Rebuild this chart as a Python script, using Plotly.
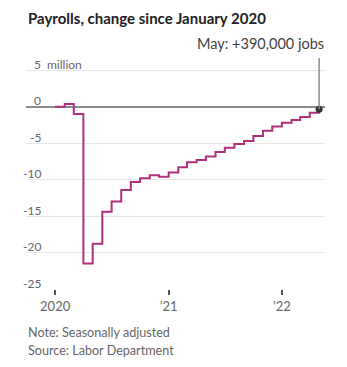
import plotly.graph_objects as go

# ---- data (millions of jobs, change since Jan 2020) ----
months = [
    "2020-01-01", "2020-02-01", "2020-03-01", "2020-04-01", "2020-05-01", "2020-06-01",
    "2020-07-01", "2020-08-01", "2020-09-01", "2020-10-01", "2020-11-01", "2020-12-01",
    "2021-01-01", "2021-02-01", "2021-03-01", "2021-04-01", "2021-05-01", "2021-06-01",
    "2021-07-01", "2021-08-01", "2021-09-01", "2021-10-01", "2021-11-01", "2021-12-01",
    "2022-01-01", "2022-02-01", "2022-03-01", "2022-04-01", "2022-05-01",
]
change = [
    0.0, 0.4, -1.0, -21.5, -18.8, -14.4,
    -13.0, -11.4, -10.3, -9.8, -9.4, -9.6,
    -9.0, -8.3, -7.6, -7.3, -6.8, -6.2,
    -5.6, -5.1, -4.7, -4.0, -3.3, -2.7,
    -2.2, -1.8, -1.4, -0.8, -0.35,
]
ytick_vals = [5, 0, -5, -10, -15, -20, -25]
ytick_text = ["5", "0", "-5", "-10", "-15", "-20", "-25"]
xtick_vals = ["2020-01-01", "2021-01-01", "2022-01-01"]
xtick_text = ["2020", "\u201921", "\u201922"]
title = "Payrolls, change since January 2020"
callout = "May: +390,000 jobs"
notes = ["Note: Seasonally adjusted", "Source: Labor Department"]

LINE = "#b0307e"
GRID = "#e6e6e6"
ZERO = "#8c8c8c"
TXT = "#666666"
FONT = "Lato"

W, H = 347, 367
ML, MR, MT, MB = 26, 22, 58, 78
Y_RANGE = [-25, 6.7]
X_RANGE = ["2019-09-29", "2022-05-20"]
plot_h = H - MT - MB

fig = go.Figure()
fig.add_trace(go.Scatter(
    x=months, y=change, mode="lines",
    line=dict(color=LINE, width=2, shape="hv"),
    hoverinfo="skip", showlegend=False,
))
# callout line and dot
fig.add_shape(type="line", xref="x", yref="y",
              x0=months[-1], x1=months[-1], y0=change[-1], y1=Y_RANGE[1],
              line=dict(color=ZERO, width=1.5))
fig.add_trace(go.Scatter(
    x=[months[-1]], y=[change[-1]], mode="markers",
    marker=dict(color="#333333", size=7),
    hoverinfo="skip", showlegend=False,
))

annotations = []
for v, t in zip(ytick_vals, ytick_text):
    annotations.append(dict(
        xref="paper", yref="y", x=0, y=v, xshift=17, yshift=6,
        xanchor="right", yanchor="middle", text=t, showarrow=False,
        font=dict(family=FONT, size=12, color=TXT),
    ))
annotations.append(dict(
    xref="paper", yref="y", x=0, y=ytick_vals[0], xshift=19, yshift=6,
    xanchor="left", yanchor="middle", text="million", showarrow=False,
    font=dict(family=FONT, size=12, color=TXT),
))
annotations.append(dict(
    xref="x", yref="paper", x=months[-1], y=1 + (MT - 43) / plot_h,
    xanchor="right", yanchor="middle", xshift=7, text=callout, showarrow=False,
    font=dict(family=FONT, size=14.5, color="#444444"),
))
annotations.append(dict(
    xref="paper", yref="paper", x=0, y=1 + (MT - 17.5) / plot_h,
    xanchor="left", yanchor="middle", text="<b>" + title + "</b>", showarrow=False,
    font=dict(family=FONT, size=15, color="#222222"),
))
for i, n in enumerate(notes):
    annotations.append(dict(
        xref="paper", yref="paper", x=0, y=-(332.5 - (H - MB) + i * 17.7) / plot_h,
        xanchor="left", yanchor="middle", text=n, showarrow=False,
        font=dict(family=FONT, size=12.6, color=TXT),
    ))

fig.update_layout(
    width=W, height=H,
    margin=dict(l=ML, r=MR, t=MT, b=MB, pad=0),
    paper_bgcolor="white", plot_bgcolor="white",
    annotations=annotations,
    xaxis=dict(
        type="date", range=X_RANGE, tickmode="array",
        tickvals=xtick_vals, ticktext=xtick_text,
        ticks="outside", ticklen=5, tickwidth=1.5, tickcolor="#555555",
        showgrid=False, zeroline=False, showline=False,
        tickfont=dict(family=FONT, size=13, color=TXT),
        fixedrange=True,
    ),
    yaxis=dict(
        range=Y_RANGE, tickmode="array", tickvals=ytick_vals,
        showticklabels=False, showgrid=True, gridcolor=GRID, gridwidth=1,
        zeroline=True, zerolinecolor=ZERO, zerolinewidth=2,
        showline=False, ticks="", fixedrange=True,
    ),
)

fig.write_html("out.html", config={"displayModeBar": False})
